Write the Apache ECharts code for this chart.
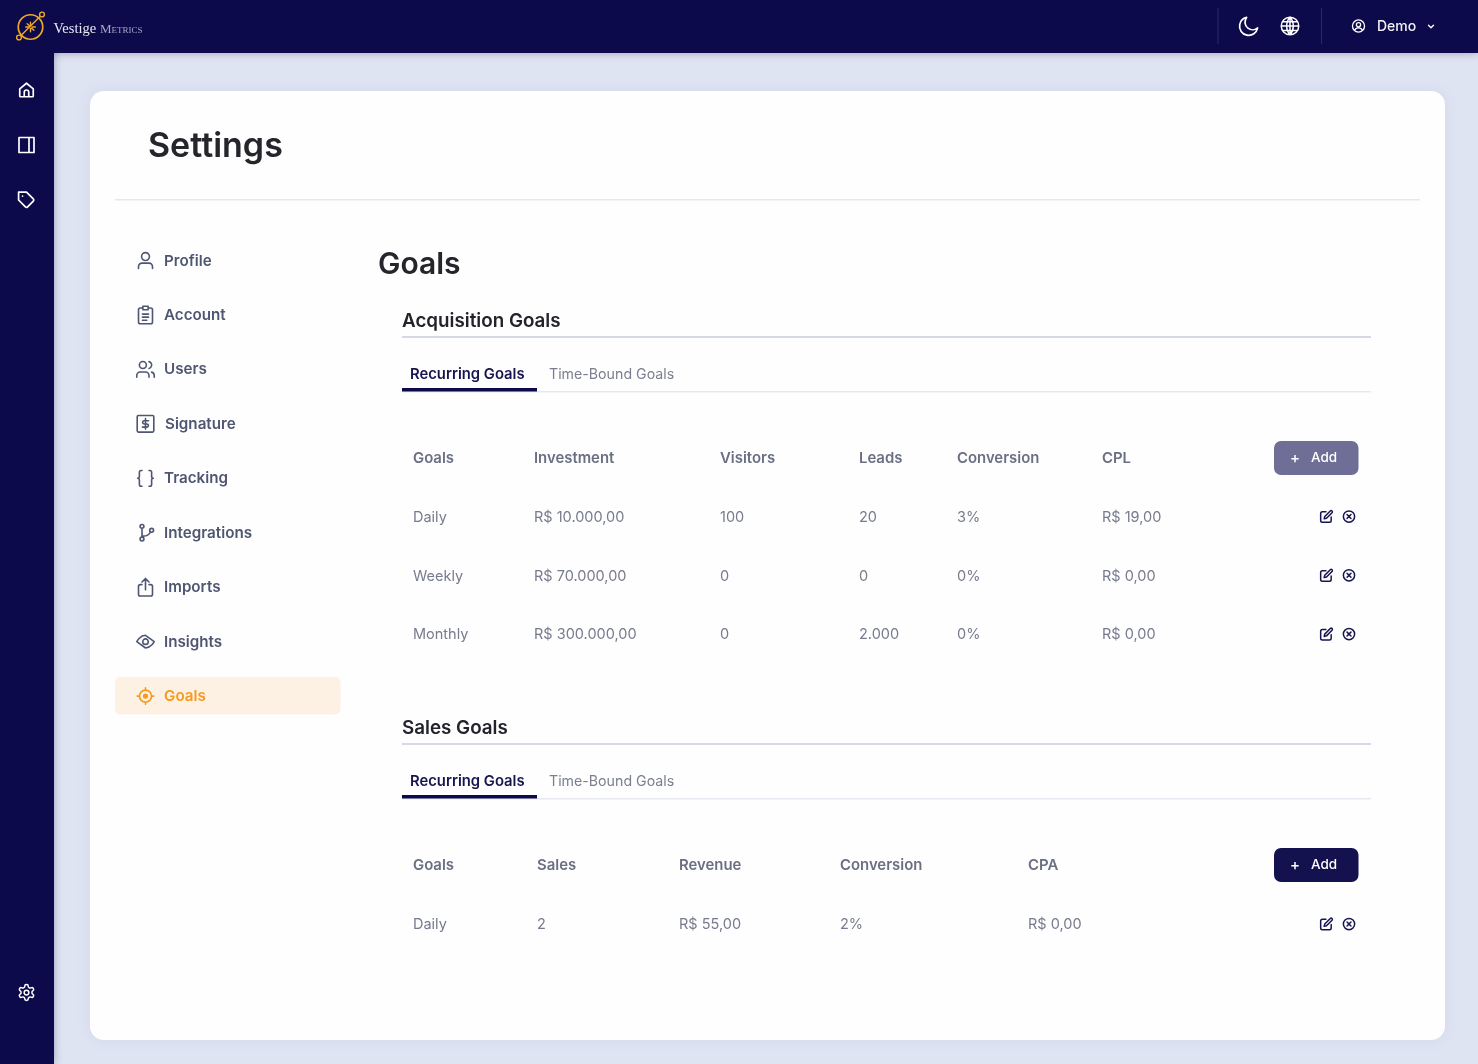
<!DOCTYPE html>
<html>
<head>
<meta charset="utf-8" />
<title>Goals</title>
<script src="https://cdn.jsdelivr.net/npm/echarts@6/dist/echarts.min.js"></script>
<style>
html, body { margin: 0; padding: 0; background: #dfe4f3; }
#main { width: 1478px; height: 1064px; }
</style>
</head>
<body>
<div id="main"></div>
<script>
// menu + table contents
var navLabels = ['Profile', 'Account', 'Users', 'Signature', 'Tracking', 'Integrations', 'Imports', 'Insights', 'Goals'];
var navIcons = ['user', 'clipboard', 'users', 'dollar', 'braces', 'branch', 'share', 'eye', 'target'];
var navIconSizes = [21, 21, 21, 21, 21, 21, 21, 19, 18];
var tabLabels = ['Recurring Goals', 'Time-Bound Goals'];
var acqColumns = ['Goals', 'Investment', 'Visitors', 'Leads', 'Conversion', 'CPL'];
var acqPeriods = ['Daily', 'Weekly', 'Monthly'];
var acqInvestment = ['R$ 10.000,00', 'R$ 70.000,00', 'R$ 300.000,00'];
var acqVisitors = ['100', '0', '0'];
var acqLeads = ['20', '0', '2.000'];
var acqConversion = ['3%', '0%', '0%'];
var acqCpl = ['R$ 19,00', 'R$ 0,00', 'R$ 0,00'];
var salesColumns = ['Goals', 'Sales', 'Revenue', 'Conversion', 'CPA'];
var salesPeriods = ['Daily'];
var salesCount = ['2'];
var salesRevenue = ['R$ 55,00'];
var salesConversion = ['2%'];
var salesCpa = ['R$ 0,00'];

var NAVY = '#0d0a4b';
var GOLD = '#eca827';
var FONT = 'Inter, "Noto Sans", sans-serif';

var ICONS = {
	home: 'M3 10.5 12 3l9 7.5V20a1 1 0 0 1-1 1H4a1 1 0 0 1-1-1z M9 21v-6a3 3 0 0 1 6 0v6',
	panel: 'M3 3h18v18H3z M15 3v18',
	tag: 'M20.6 13.4l-7.2 7.2a2 2 0 0 1-2.8 0L2 12V2h10l8.6 8.6a2 2 0 0 1 0 2.8z M7 7h.01',
	gear: 'M12.22 2h-.44a2 2 0 0 0-2 2v.18a2 2 0 0 1-1 1.73l-.43.25a2 2 0 0 1-2 0l-.15-.08a2 2 0 0 0-2.73.73l-.22.38a2 2 0 0 0 .73 2.73l.15.1a2 2 0 0 1 1 1.72v.51a2 2 0 0 1-1 1.74l-.15.09a2 2 0 0 0-.73 2.73l.22.38a2 2 0 0 0 2.73.73l.15-.08a2 2 0 0 1 2 0l.43.25a2 2 0 0 1 1 1.73V20a2 2 0 0 0 2 2h.44a2 2 0 0 0 2-2v-.18a2 2 0 0 1 1-1.73l.43-.25a2 2 0 0 1 2 0l.15.08a2 2 0 0 0 2.73-.73l.22-.39a2 2 0 0 0-.73-2.73l-.15-.08a2 2 0 0 1-1-1.74v-.5a2 2 0 0 1 1-1.74l.15-.09a2 2 0 0 0 .73-2.73l-.22-.38a2 2 0 0 0-2.73-.73l-.15.08a2 2 0 0 1-2 0l-.43-.25a2 2 0 0 1-1-1.73V4a2 2 0 0 0-2-2z M12 9a3 3 0 1 0 0 6 3 3 0 0 0 0-6z',
	moon: 'M21 13.5A9.5 9.5 0 1 1 9.5 2.5a8 8 0 0 0 11.5 11z',
	globe: 'M12 2a10 10 0 1 0 0 20 10 10 0 0 0 0-20z M2 12h20 M12 2a15 15 0 0 1 0 20 M12 2a15 15 0 0 0 0 20 M12 2v20 M3.5 7h17 M3.5 17h17',
	userCircle: 'M12 2a10 10 0 1 0 0 20 10 10 0 0 0 0-20z M12 6.5a3.5 3.5 0 1 0 0 7 3.5 3.5 0 0 0 0-7z M5.5 19.5a7 7 0 0 1 13 0',
	chevron: 'M6 9l6 6 6-6',
	user: 'M20 21v-2a4 4 0 0 0-4-4H8a4 4 0 0 0-4 4v2 M12 3a4.5 4.5 0 1 0 0 9 4.5 4.5 0 0 0 0-9z',
	clipboard: 'M8 4H6a2 2 0 0 0-2 2v14a2 2 0 0 0 2 2h12a2 2 0 0 0 2-2V6a2 2 0 0 0-2-2h-2 M9 2h6v4H9z M8.5 11h7 M8.5 14.5h7 M8.5 18h5',
	users: 'M16 21v-2a4 4 0 0 0-4-4H6a4 4 0 0 0-4 4v2 M9 3a4 4 0 1 0 0 8 4 4 0 0 0 0-8z M22 21v-2a4 4 0 0 0-3-3.87 M16 3.13a4 4 0 0 1 0 7.75',
	dollar: 'M4 2.5h16a1.5 1.5 0 0 1 1.5 1.5v16a1.5 1.5 0 0 1-1.5 1.5H4a1.5 1.5 0 0 1-1.5-1.5V4A1.5 1.5 0 0 1 4 2.5z M15.5 8.5H10.5a1.8 1.8 0 0 0 0 3.6h3a1.8 1.8 0 0 1 0 3.6H8.5 M12 6v12',
	braces: 'M8 3H7a2 2 0 0 0-2 2v5a2 2 0 0 1-2 2 2 2 0 0 1 2 2v5a2 2 0 0 0 2 2h1 M16 21h1a2 2 0 0 0 2-2v-5a2 2 0 0 1 2-2 2 2 0 0 1-2-2V5a2 2 0 0 0-2-2h-1',
	branch: 'M8 7v10 M8 2.5a2.2 2.2 0 1 0 0 4.4 2.2 2.2 0 0 0 0-4.4z M8 17a2.2 2.2 0 1 0 0 4.4 2.2 2.2 0 0 0 0-4.4z M19 7a2.2 2.2 0 1 0 0 4.4 2.2 2.2 0 0 0 0-4.4z M17.5 11.5a9 9 0 0 1-9.5 4',
	share: 'M8 9H6a2 2 0 0 0-2 2v9a2 2 0 0 0 2 2h12a2 2 0 0 0 2-2v-9a2 2 0 0 0-2-2h-2 M16 6l-4-4-4 4 M12 2v13',
	eye: 'M1 12s4-8 11-8 11 8 11 8-4 8-11 8-11-8-11-8z M12 8.5a3.5 3.5 0 1 0 0 7 3.5 3.5 0 0 0 0-7z',
	target: 'M12 4a8 8 0 1 0 0 16 8 8 0 0 0 0-16z M12 1v3 M12 20v3 M1 12h3 M20 12h3',
	edit: 'M11 4H5a3 3 0 0 0-3 3v12a3 3 0 0 0 3 3h12a3 3 0 0 0 3-3v-6 M18.5 2.5a2.12 2.12 0 0 1 3 3L12 15l-4 1 1-4z',
	xCircle: 'M12 2a10 10 0 1 0 0 20 10 10 0 0 0 0-20z M15.5 8.5l-7 7 M8.5 8.5l7 7',
	logo: 'M12 2.5a9.5 9.5 0 1 0 0 19 9.5 9.5 0 0 0 0-19z',
	burst: 'M12 7v3.5 M12 13.5V17 M7 12h3.5 M13.5 12H17 M8.5 8.5l2.3 2.3 M13.2 13.2l2.3 2.3'
};

function rect(x, y, w, h, fill, r, extra) {
	var style = { fill: fill };
	for (var k in extra) style[k] = extra[k];
	return { type: 'rect', shape: { x: x, y: y, width: w, height: h, r: r || 0 }, style: style, silent: true };
}

function label(text, x, y, size, weight, fill, align) {
	return {
		type: 'text',
		style: {
			text: text, x: x, y: y + 1,
			font: weight + ' ' + size + 'px ' + FONT,
			fill: fill, textAlign: align || 'left', textVerticalAlign: 'middle'
		},
		silent: true
	};
}

// icon drawn from a 24 unit box centred on cx,cy
function icon(name, cx, cy, size, color, width) {
	var s = size / 24;
	return {
		type: 'path',
		x: cx - 12 * s, y: cy - 12 * s, scaleX: s, scaleY: s,
		shape: { pathData: ICONS[name] },
		style: { fill: 'none', stroke: color, lineWidth: width / s, lineCap: 'round', lineJoin: 'round' },
		silent: true
	};
}

function tableBlock(out, o) {
	out.push(label(o.title, 402, o.titleY, 18.8, 600, '#23242b'));
	out.push(rect(402, o.titleY + 16, 969, 2, '#d5d9e5'));
	out.push(label(tabLabels[0], 410, o.titleY + 54, 14.8, 600, '#17154f'));
	out.push(label(tabLabels[1], 549, o.titleY + 54, 14.2, 400, '#7a7e90'));
	out.push(rect(402, o.titleY + 71, 969, 1.5, '#e6e9f0'));
	out.push(rect(402, o.titleY + 68, 135, 3.5, NAVY));
	for (var i = 0; i < o.columns.length; i++) {
		out.push(label(o.columns[i], o.xs[i], o.headY - 0.5, 14.9, 600, '#6b6f83'));
	}
	out.push(rect(1274, o.headY - 17, 84.5, 34, o.btnColor, 7));
	out.push(label('+', 1295, o.headY - 1, 15, 500, '#ffffff', 'center'));
	out.push(label('Add', 1311, o.headY - 1, 13.5, 500, '#ffffff'));
	for (var r = 0; r < o.rows[0].length; r++) {
		var y = o.rowY + r * 58.8;
		for (var c = 0; c < o.rows.length; c++) {
			out.push(label(o.rows[c][r], o.xs[c], y, 14.5, 400, '#777b8d'));
		}
		out.push(icon('edit', 1326.5, y, 14, '#17154f', 1.5));
		out.push(icon('xCircle', 1349, y, 13.5, '#17154f', 1.5));
	}
}

function buildPage() {
	var out = [];
	// card
	out.push(rect(90, 91, 1355, 949, '#fefefe', 14, { shadowBlur: 14, shadowColor: 'rgba(120,130,170,0.12)' }));

	// side + top bars
	out.push(rect(0, 0, 54, 1064, NAVY, 0, { shadowBlur: 8, shadowColor: 'rgba(30,30,80,0.35)' }));
	out.push(rect(0, 0, 1478, 53, NAVY, 0, { shadowBlur: 8, shadowColor: 'rgba(30,30,80,0.35)' }));
	out.push(rect(0, 40, 54, 1024, NAVY));

	// logo
	out.push(icon('logo', 30.5, 27, 31, GOLD, 1.7));
	out.push({ type: 'line', shape: { x1: 19, y1: 37.5, x2: 42, y2: 14.5 }, style: { stroke: GOLD, lineWidth: 1.4 }, silent: true });
	out.push({ type: 'circle', shape: { cx: 19, cy: 37.5, r: 2.4 }, style: { fill: NAVY, stroke: GOLD, lineWidth: 1.4 }, silent: true });
	out.push({ type: 'circle', shape: { cx: 42, cy: 14.5, r: 2.4 }, style: { fill: NAVY, stroke: GOLD, lineWidth: 1.4 }, silent: true });
	out.push(icon('burst', 30.5, 27, 23, GOLD, 1.4));
	out.push({
		type: 'text',
		style: { text: 'Vestige', x: 53.5, y: 29, font: '500 14.5px "Liberation Serif", serif', fill: '#e8e8f2', textVerticalAlign: 'middle' },
		silent: true
	});
	out.push({
		type: 'text',
		style: { text: 'Metrics', x: 100, y: 29.5, font: 'small-caps 400 13px "Liberation Serif", serif', fill: '#a5a6c8', textVerticalAlign: 'middle' },
		silent: true
	});

	// top right
	out.push(rect(1217.5, 8, 1, 36, '#2b2964'));
	out.push(rect(1321, 8, 1, 36, '#2b2964'));
	out.push(icon('moon', 1249, 26.5, 23, '#ffffff', 1.7));
	out.push(icon('globe', 1290, 26, 21, '#ffffff', 1.5));
	out.push(icon('userCircle', 1358.5, 26, 14.5, '#ffffff', 1.3));
	out.push(label('Demo', 1377, 26, 14, 500, '#f2f2f8'));
	out.push(icon('chevron', 1431, 26.5, 10, '#ffffff', 1.4));

	// sidebar
	out.push(icon('home', 26.5, 90, 18, '#ffffff', 1.7));
	out.push(icon('panel', 26.5, 145, 20, '#ffffff', 1.7));
	out.push(icon('tag', 26.5, 200, 19, '#ffffff', 1.7));
	out.push(icon('gear', 26.5, 992.5, 19, '#ffffff', 1.5));

	// headings
	out.push(label('Settings', 148, 146, 34, 600, '#25262c'));
	out.push(rect(115, 199, 1305, 1.5, '#e5e8ef'));
	out.push(label('Goals', 378, 264, 30, 600, '#25262c'));

	// left menu
	out.push(rect(115, 677, 225.5, 37.5, '#fdf1e4', 5));
	for (var i = 0; i < navLabels.length; i++) {
		var y = 260.5 + i * 54.45;
		var active = navLabels[i] === 'Goals';
		var color = active ? '#f7991f' : '#4f5672';
		out.push(icon(navIcons[i], 145.5, y, navIconSizes[i], color, 1.6));
		if (active) out.push({ type: 'circle', shape: { cx: 145.5, cy: y, r: 2.6 }, style: { fill: color }, silent: true });
		out.push(label(navLabels[i], navLabels[i] === 'Signature' ? 165 : 164, y - 0.5, 15.2, 600, color));
	}

	tableBlock(out, {
		title: 'Acquisition Goals', titleY: 320, headY: 458, rowY: 516.5,
		btnColor: '#6f6e96',
		xs: [413, 534, 720, 859, 957, 1102],
		columns: acqColumns,
		rows: [acqPeriods, acqInvestment, acqVisitors, acqLeads, acqConversion, acqCpl]
	});
	tableBlock(out, {
		title: 'Sales Goals', titleY: 727, headY: 865, rowY: 924,
		btnColor: '#13114e',
		xs: [413, 537, 679, 840, 1028],
		columns: salesColumns,
		rows: [salesPeriods, salesCount, salesRevenue, salesConversion, salesCpa]
	});
	return out;
}

var myChart = echarts.init(document.getElementById('main'));
myChart.setOption({
	backgroundColor: '#dfe4f3',
	animation: false,
	series: [{
		type: 'custom',
		coordinateSystem: 'none',
		silent: true,
		data: [0],
		renderItem: function() {
			return { type: 'group', children: buildPage() };
		}
	}]
});
</script>
</body>
</html>
